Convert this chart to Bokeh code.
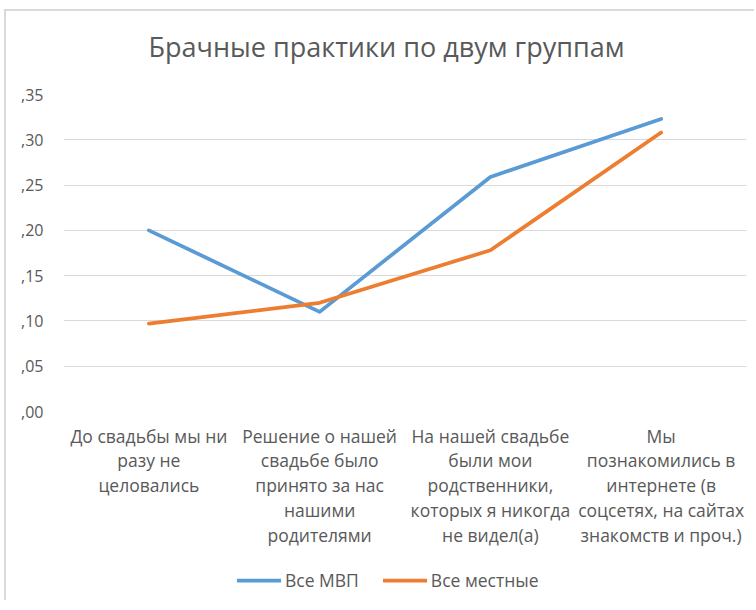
from bokeh.plotting import figure
from bokeh.layouts import column
from bokeh.models import FactorRange, Range1d, FixedTicker, Legend, LegendItem, Title
from bokeh.embed import file_html
from bokeh.resources import INLINE

categories = [
    "До свадьбы мы ни\nразу не\nцеловались",
    "Решение о нашей\nсвадьбе было\nпринято за нас\nнашими\nродителями",
    "На нашей свадьбе\nбыли мои\nродственники,\nкоторых я никогда\nне видел(а)",
    "Мы\nпознакомились в\nинтернете (в\nсоцсетях, на сайтах\nзнакомств и проч.)",
]
series_names = ["Все МВП", "Все местные"]
mvp = [0.200, 0.110, 0.259, 0.323]
local = [0.097, 0.120, 0.178, 0.308]
y_ticks = [0.0, 0.05, 0.1, 0.15, 0.2, 0.25, 0.3, 0.35]
y_tick_labels = [",00", ",05", ",10", ",15", ",20", ",25", ",30", ",35"]
chart_title = "Брачные практики по двум группам"

FONT = "Open Sans"
TXT = "#595959"
BLUE = "#5B9BD5"
ORANGE = "#ED7D31"

x_range = FactorRange(*categories, range_padding=0)

p = figure(
    width=748, height=549,
    x_range=x_range,
    y_range=Range1d(0, 0.35),
    output_backend="svg", toolbar_location=None,
    min_border_left=57, min_border_right=8, min_border_top=83, min_border_bottom=149,
)
p.outline_line_color = None
p.title = None
# spacer between title and plot area (first added = closest to plot)
p.add_layout(Title(text=" ", text_font_size="1px", standoff=22), "above")
p.add_layout(Title(text=chart_title, align="left",
                   text_font=FONT, text_font_size="27px", text_font_style="normal",
                   text_color=TXT, offset=85, standoff=10), "above")

p.line(categories, mvp, line_color=BLUE, line_width=3.75, line_join="round", line_cap="round")
p.line(categories, local, line_color=ORANGE, line_width=3.75, line_join="round", line_cap="round")

p.yaxis.ticker = FixedTicker(ticks=y_ticks)
p.yaxis.major_label_overrides = dict(zip(y_ticks, y_tick_labels))
for ax in (p.xaxis[0], p.yaxis[0]):
    ax.axis_line_color = None
    ax.major_tick_line_color = None
    ax.minor_tick_line_color = None
    ax.major_label_text_font = FONT
    ax.major_label_text_color = TXT
p.yaxis.major_label_text_font_size = "16px"
p.yaxis.major_label_standoff = 14
p.xaxis.major_label_text_font_size = "17.5px"
p.xaxis.major_label_text_line_height = 1.04
p.xaxis.major_label_standoff = 6

p.xgrid.grid_line_color = None
p.ygrid.grid_line_color = "#d9d9d9"
p.ygrid.grid_line_width = 1
p.ygrid.ticker = FixedTicker(ticks=y_ticks)

# legend strip (same series, drawn outside its visible y-range so only the legend shows)
lg = figure(width=748, height=40, x_range=x_range, y_range=Range1d(1, 2),
            output_backend="svg", toolbar_location=None,
            x_axis_location=None, y_axis_location=None, min_border=0)
lg.outline_line_color = None
lg.grid.visible = False
d1 = lg.line(categories, mvp, line_color=BLUE, line_width=3.75, line_cap="round")
d2 = lg.line(categories, local, line_color=ORANGE, line_width=3.75, line_cap="round")
legend = Legend(items=[LegendItem(label=series_names[0], renderers=[d1]),
                       LegendItem(label=series_names[1], renderers=[d2])],
                orientation="horizontal", location=(174, 8),
                label_text_font=FONT, label_text_font_size="17.5px", label_text_color=TXT,
                glyph_width=44, spacing=24, border_line_color=None, background_fill_alpha=0,
                margin=0, padding=4, label_standoff=4)
lg.add_layout(legend, "center")

page = column(p, lg, styles={"border-left": "2px solid #d9d9d9", "border-top": "2px solid #d9d9d9",
                             "margin-left": "4px", "margin-top": "9px"})

open("out.html", "w").write(file_html(page, INLINE))
